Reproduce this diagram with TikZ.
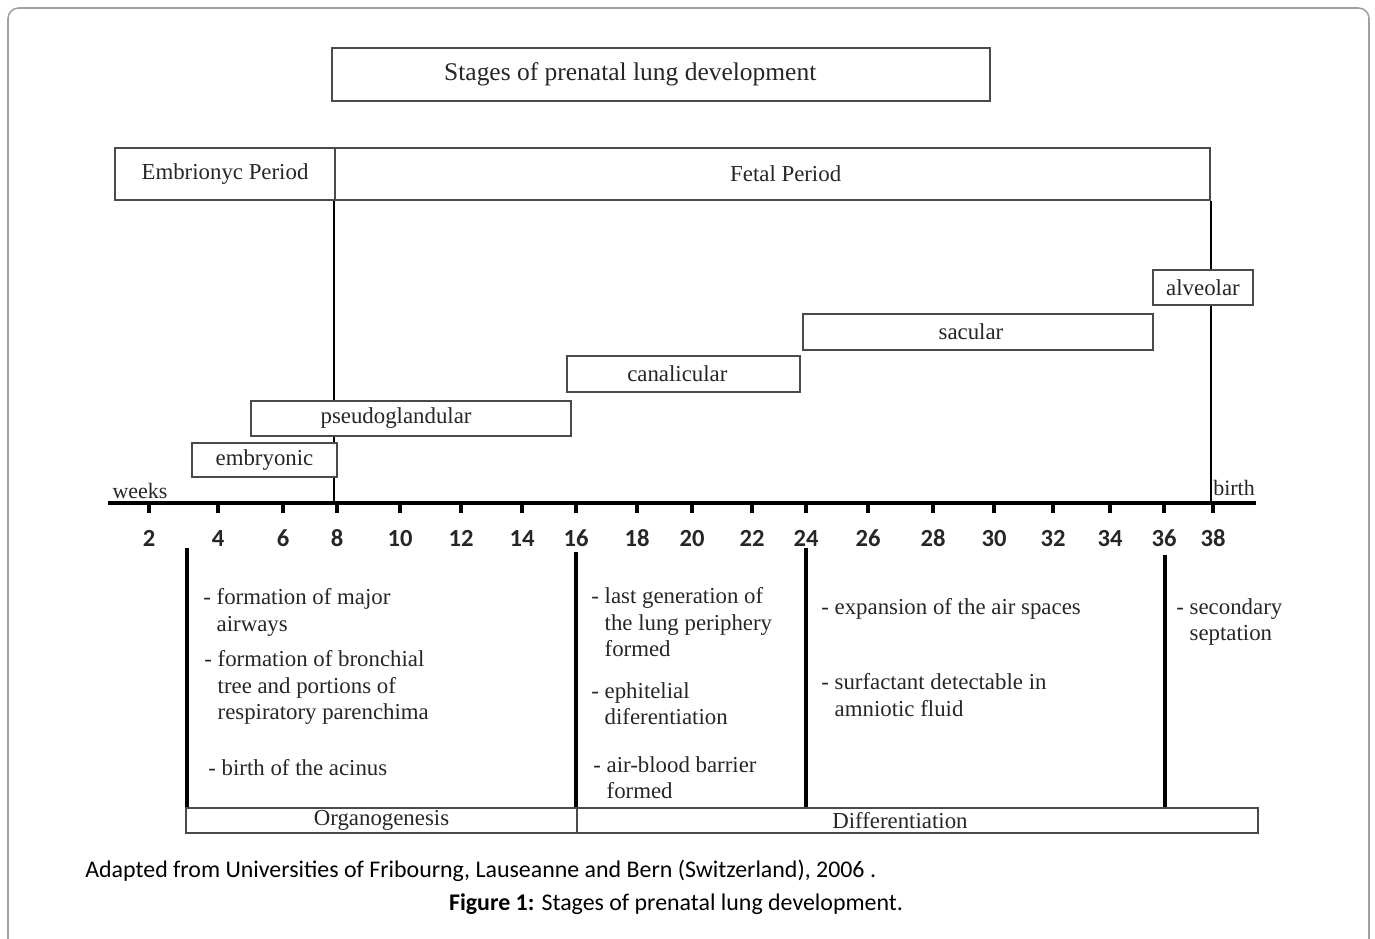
\documentclass[tikz,border=0pt]{standalone}
\usepackage{fontspec}
\setmainfont{Liberation Serif}
\newfontfamily\capfont[Numbers=Lining]{Carlito}
\definecolor{txt}{HTML}{262626}
\definecolor{boxc}{HTML}{4A4A4A}
\definecolor{framec}{HTML}{A0A0A0}
\begin{document}
\begin{tikzpicture}[x=0.02cm,y=-0.02cm,
  box/.style={draw=boxc, line width=1.3pt, fill=white, inner sep=0pt, text=txt,
              font=\fontsize{13}{15}\selectfont},
  lowbox/.style={box, line width=1pt},
  bul/.style={anchor=north west, inner sep=0pt, align=left, text=txt,
              font=\fontsize{13}{15.2}\selectfont},
  num/.style={text=txt, inner sep=0pt, anchor=base, font=\capfont\bfseries\fontsize{14}{16}\selectfont},
  divider/.style={line width=2.4pt, black},
  thinv/.style={line width=0.8pt, black},
  tickmark/.style={line width=2pt, black}]
\useasboundingbox (0,0) rectangle (1375,938);
\draw[framec, line width=0.9pt, rounded corners=6pt] (8,8) rectangle (1369,980);

% title
\node[box, minimum width=13.16cm, minimum height=1.06cm, font=\fontsize{14.5}{17}\selectfont]
  (title) at (661,74.5) {Stages of prenatal lung development\kern35pt};

% periods
\node[box, minimum width=4.4cm, minimum height=1.04cm] (embr) at (225,174) {Embrionyc Period};
\node[box, minimum width=17.5cm, minimum height=1.04cm] (fetal) at (772.5,174) {\kern15pt Fetal Period};

% axis
\coordinate (ax1) at (108,503);
\coordinate (ax2) at (1256,503);
\draw[thinv] (fetal.south west) -- (fetal.south west |- ax1);
\draw[thinv] (fetal.south east) -- (fetal.south east |- ax1);
\draw[line width=2.4pt, black] (ax1) -- (ax2);

% stages
\node[box, minimum width=2.0cm, minimum height=0.7cm] (alv) at (1203,287.5) {alveolar};
\node[box, minimum width=7cm, minimum height=0.72cm] (sac) at (978,332) {sacular\kern8pt};
\node[box, minimum width=4.66cm, minimum height=0.72cm] (can) at (683.5,374) {canalicular\kern7pt};
\node[box, minimum width=6.4cm, minimum height=0.7cm] (pse) at (411,418.5) {pseudoglandular\kern17pt};
\node[box, minimum width=2.9cm, minimum height=0.68cm] (emb) at (264.5,460) {embryonic};

\node[text=txt, inner sep=0pt, font=\fontsize{12.5}{14}\selectfont] (weeks) at (140,491) {weeks};
\node[text=txt, inner sep=0pt, font=\fontsize{12.5}{14}\selectfont] (birth) at (1234,488) {birth};

\foreach \w/\x in {2/149,4/218,6/283,8/337,10/400,12/461,14/522,16/576,18/637,20/692,
                   22/752,24/806,26/868,28/933,30/994,32/1053,34/1110,36/1164,38/1213}{
  \coordinate (t\w) at (\x,503);
  \draw[tickmark] (t\w) -- ++(0,10);
  \node[num] (n\w) at (\x,546) {\w};
}

% bottom boxes
\node[lowbox, minimum width=7.82cm, minimum height=0.5cm] (org) at (381.5,820.5) {Organogenesis};
\node[lowbox, minimum width=13.62cm, minimum height=0.5cm] (dif) at (917.5,820.5) {Differentiation\kern20pt};

\coordinate (d1) at (187,548);
\coordinate (d2) at (576,552);
\coordinate (d3) at (806,548);
\coordinate (d4) at (1165,555);
\draw[divider] (d1) -- (d1 |- org.north);
\draw[divider] (d2) -- (d2 |- org.north);
\draw[divider] (d3) -- (d3 |- dif.north);
\draw[divider] (d4) -- (d4 |- dif.north);

% bullets
\node[bul] (b1) at (203,588) {-~formation of major\\\hphantom{-~}airways};
\node[bul] (b2) at (204,650) {-~formation of bronchial\\\hphantom{-~}tree and portions of\\\hphantom{-~}respiratory parenchima};
\node[bul] (b3) at (208,759) {-~birth of the acinus};
\node[bul] (b4) at (591,587) {-~last generation of\\\hphantom{-~}the lung periphery\\\hphantom{-~}formed};
\node[bul] (b5) at (591,682) {-~ephitelial\\\hphantom{-~}diferentiation};
\node[bul] (b6) at (593,756) {-~air-blood barrier\\\hphantom{-~}formed};
\node[bul] (b7) at (821,598) {-~expansion of the air spaces};
\node[bul] (b8) at (821,673) {-~surfactant detectable in\\\hphantom{-~}amniotic fluid};
\node[bul] (b9) at (1176,598) {-~secondary\\\hphantom{-~}septation};

% caption
\node[anchor=west, inner sep=0pt, text=black, font=\capfont\fontsize{13.6}{16}\selectfont]
  (src) at (85,871) {Adapted from Universities of Fribourng, Lauseanne and Bern (Switzerland), 2006 .};
\node[inner sep=0pt, text=black, font=\capfont\fontsize{13.6}{16}\selectfont]
  (fig) at (676,904) {\textbf{Figure 1:} Stages of prenatal lung development.};
\end{tikzpicture}
\end{document}
